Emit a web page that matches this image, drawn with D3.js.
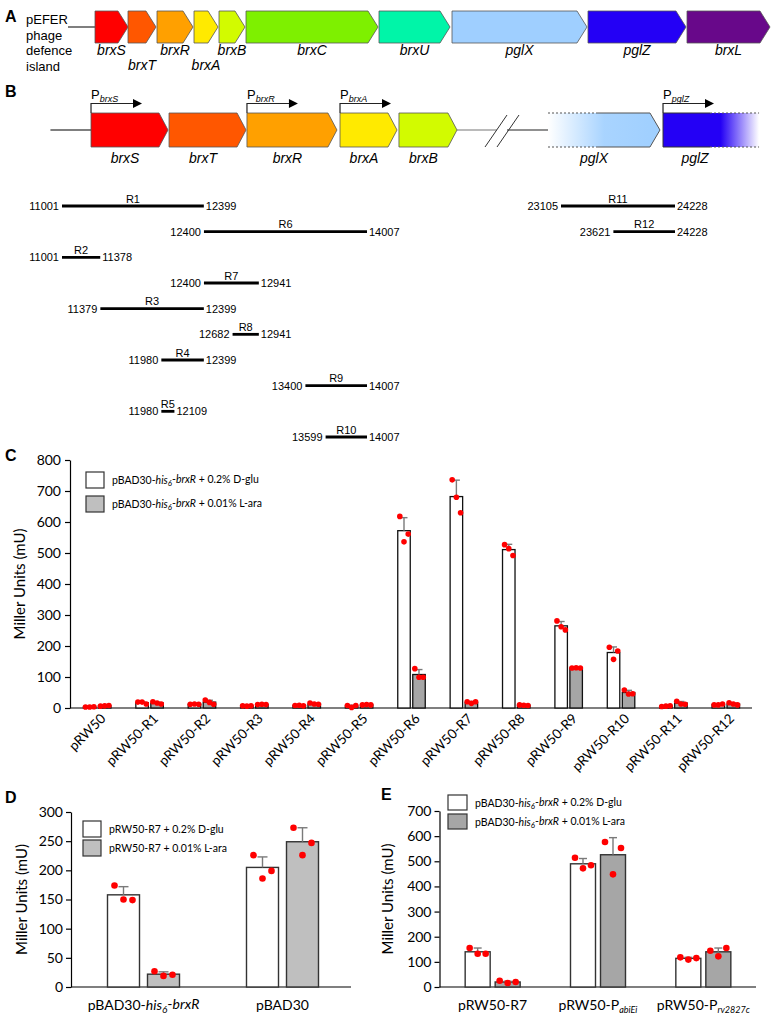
<!DOCTYPE html>
<html><head><meta charset="utf-8">
<script src="https://cdn.jsdelivr.net/npm/d3@7"></script>
<style>
body{margin:0;background:#fff;}
svg{display:block;}
</style></head><body>
<svg id="fig" width="772" height="1023"></svg>
<script>
// ---------------- DATA ----------------
// Panel A: gene order along the island (diagram units)
const aGenes = ["brxS","brxT","brxR","brxA","brxB","brxC","brxU","pglX","pglZ","brxL"];
const aGeneStart = [0,33,62,99,124,151,284,357,493,592];
const aGeneEnd   = [33,61,98,123,150,283,355,492,591,675];
const aLabelRow  = [1,2,1,2,1,1,1,1,1,1];

// Panel B: genes (bp) and promoters
const bGenes = ["brxS","brxT","brxR","brxA","brxB"];
const bGeneStart = [11287,12056,12824,13741,14322];
const bGeneEnd   = [12046,12815,13711,14303,14894];
const bGenes2 = ["pglX","pglZ"];
const bGene2Start = [22977,24110];
const bGene2End   = [24080,25056];
const promoterGenes = ["brxS","brxR","brxA","pglZ"];

// Panel B: cloned regions
const regions     = ["R1","R2","R3","R4","R5","R6","R7","R8","R9","R10","R11","R12"];
const regionStart = [11001,11001,11379,11980,11980,12400,12400,12682,13400,13599,23105,23621];
const regionEnd   = [12399,11378,12399,12399,12109,14007,12941,12941,14007,14007,24228,24228];
const regionRow   = [0,2,4,6,8,1,3,5,7,9,0,1];

// Panel C
const cCats = ["pRW50","pRW50-R1","pRW50-R2","pRW50-R3","pRW50-R4","pRW50-R5","pRW50-R6","pRW50-R7","pRW50-R8","pRW50-R9","pRW50-R10","pRW50-R11","pRW50-R12"];
const cGluMean = [3,17,12,7,8,6,572,682,511,265,179,6,11];
const cGluSD   = [1,3,1,1,1,3,42,53,17,14,18,1,2];
const cAraMean = [7,16,19,11,13,10,108,18,9,129,50,16,13];
const cAraSD   = [1,3,6,1,2,1,16,3,1,2,7,5,3];
const cGluPts = [[3,3,4],[19,19,13],[12,13,12],[7,6,7],[8,9,7],[8,2,8],[618,536,561],[736,680,630],[527,514,492],[281,262,252],[196,157,184],[5,6,7],[10,10,13]];
const cAraPts = [[6,7,8],[20,16,13],[26,18,12],[11,12,11],[16,13,12],[10,11,10],[127,99,99],[20,15,20],[10,9,8],[129,130,129],[58,45,46],[22,13,12],[17,13,10]];
const cTicks = [0,100,200,300,400,500,600,700,800];

// Panel D
const dCats = ["pBAD30-his6-brxR","pBAD30"];
const dGluMean = [158,205];
const dGluSD   = [14,18];
const dAraMean = [22,249];
const dAraSD   = [4,24];
const dGluPts = [[174,150,149],[226,186,199]];
const dAraPts = [[27,19,21],[273,226,247]];
const dTicks = [0,50,100,150,200,250,300];

// Panel E
const eCats = ["pRW50-R7","pRW50-PabiEi","pRW50-Prv2827c"];
const eGluMean = [140,490,114];
const eGluSD   = [15,21,4];
const eAraMean = [20,526,140];
const eAraSD   = [3,68,15];
const eGluPts = [[155,132,132],[514,472,484],[118,109,115]];
const eAraPts = [[25,16,20],[577,448,553],[144,122,155]];
const eTicks = [0,100,200,300,400,500,600,700];

// ---------------- STYLE ----------------
const geneColors = {brxS:"#ff0000",brxT:"#ff5700",brxR:"#ffa000",brxA:"#ffea00",brxB:"#d2fb00",
  brxC:"#7ef000",brxU:"#00f5a8",pglX:"#9fcfff",pglZ:"#2400f5",brxL:"#68088a"};
const ARIAL = "'Liberation Sans', Arial, sans-serif";
const CAL = "Lato, 'Open Sans', sans-serif";
const svg = d3.select("#fig");
const defs = svg.append("defs");

function arrowPath(x0,x1,y0,y1,head){
  const ym=(y0+y1)/2;
  return `M${x0},${y0}L${x1-head},${y0}L${x1},${ym}L${x1-head},${y1}L${x0},${y1}Z`;
}
// rich text: parts = [[text, style]] style: n | i | is (italic subscript)
function rich(sel, parts, subSize){
  parts.forEach(([t,s])=>{
    const ts = sel.append("tspan").text(t);
    if(s==="i"||s==="is") ts.attr("font-style","italic");
    if(s==="is"){ ts.attr("font-size",subSize).attr("dy","0.3em"); }
  });
  const nodes = sel.selectAll("tspan").nodes();
  for(let k=1;k<nodes.length;k++){
    const prevSub = parts[k-1][1]==="is", curSub = parts[k][1]==="is";
    if(prevSub && !curSub) d3.select(nodes[k]).attr("dy","-0.3em");
  }
  return sel;
}
const labelParts = {
  "pBAD30-his6-brxR":[["pBAD30-","n"],["his","i"],["6","is"],["-","n"],["brxR","i"]],
  "pBAD30":[["pBAD30","n"]],
  "pRW50-R7":[["pRW50-R7","n"]],
  "pRW50-PabiEi":[["pRW50-P","n"],["abiEi","is"]],
  "pRW50-Prv2827c":[["pRW50-P","n"],["rv2827c","is"]]
};

// ---------------- PANEL A ----------------
svg.append("text").attr("x",5).attr("y",22).attr("font-family",ARIAL).attr("font-weight","bold").attr("font-size",16).text("A");
["pEFER","phage","defence","island"].forEach((t,i)=>{
  svg.append("text").attr("x",26).attr("y",24+i*15.5).attr("font-family",ARIAL).attr("font-size",13).text(t);
});
const xA = d3.scaleLinear().domain([0,675]).range([95,770]);
svg.append("line").attr("x1",68).attr("x2",xA(0)).attr("y1",27).attr("y2",27).attr("stroke","#555").attr("stroke-width",1.5);
aGenes.forEach((g,i)=>{
  svg.append("path").attr("d",arrowPath(xA(aGeneStart[i]),xA(aGeneEnd[i]),11,43,10))
    .attr("fill",geneColors[g]).attr("stroke","#555").attr("stroke-width",0.8);
  svg.append("text").attr("x",(xA(aGeneStart[i])+xA(aGeneEnd[i]))/2).attr("y",aLabelRow[i]===1?55:70)
    .attr("text-anchor","middle").attr("font-family",ARIAL).attr("font-style","italic").attr("font-size",14).text(g);
});

// ---------------- PANEL B ----------------
svg.append("text").attr("x",5).attr("y",97).attr("font-family",ARIAL).attr("font-weight","bold").attr("font-size",16).text("B");
const s1 = d3.scaleLinear().domain([11001,14007]).range([62,367]);
const s2 = d3.scaleLinear().domain([23105,24228]).range([561,675]);
const gy0=113, gy1=147, gym=130;
// backbone lines
svg.append("line").attr("x1",s1(10887)).attr("x2",s1(bGeneStart[0])).attr("y1",gym).attr("y2",gym).attr("stroke","#555").attr("stroke-width",1.5);
svg.append("line").attr("x1",s1(bGeneEnd[4])).attr("x2",s1(15288)).attr("y1",gym).attr("y2",gym).attr("stroke","#777").attr("stroke-width",1.2);
svg.append("line").attr("x1",s2(22573)).attr("x2",s2(bGene2Start[0])).attr("y1",gym).attr("y2",gym).attr("stroke","#222").attr("stroke-width",1.2);
// break marks
[[485,507],[497,519]].forEach(([a,b])=>{
  svg.append("line").attr("x1",a).attr("y1",gy1).attr("x2",b).attr("y2",gy0+2).attr("stroke","#333").attr("stroke-width",1);
});
bGenes.forEach((g,i)=>{
  const x0=s1(bGeneStart[i]), x1=s1(bGeneEnd[i]);
  svg.append("path").attr("d",arrowPath(x0,x1,gy0,gy1,9)).attr("fill",geneColors[g]).attr("stroke","#555").attr("stroke-width",0.8);
  svg.append("text").attr("x",(x0+x1-9)/2).attr("y",163).attr("text-anchor","middle")
    .attr("font-family",ARIAL).attr("font-style","italic").attr("font-size",14).text(g);
});
// pglX gradient arrow
const gX = defs.append("linearGradient").attr("id","gX").attr("x1","0").attr("x2","1").attr("y1","0").attr("y2","0");
gX.append("stop").attr("offset","0").attr("stop-color",geneColors.pglX).attr("stop-opacity",0);
gX.append("stop").attr("offset","0.5").attr("stop-color",geneColors.pglX).attr("stop-opacity",0.9);
gX.append("stop").attr("offset","1").attr("stop-color",geneColors.pglX).attr("stop-opacity",1);
const gZ = defs.append("linearGradient").attr("id","gZ").attr("x1","0").attr("x2","1").attr("y1","0").attr("y2","0");
gZ.append("stop").attr("offset","0").attr("stop-color",geneColors.pglZ).attr("stop-opacity",1);
gZ.append("stop").attr("offset","0.6").attr("stop-color",geneColors.pglZ).attr("stop-opacity",1);
gZ.append("stop").attr("offset","1").attr("stop-color",geneColors.pglZ).attr("stop-opacity",0);
{
  const x0=s2(bGene2Start[0]), x1=s2(bGene2End[0]), h=10, mid=x0+50;
  svg.append("path").attr("d",arrowPath(x0,x1,gy0,gy1,h)).attr("fill","url(#gX)");
  [gy0,gy1].forEach(yy=>{
    svg.append("line").attr("x1",x0).attr("x2",mid).attr("y1",yy).attr("y2",yy).attr("stroke","#555").attr("stroke-width",1).attr("stroke-dasharray","2,2");
    svg.append("line").attr("x1",mid).attr("x2",x1-h).attr("y1",yy).attr("y2",yy).attr("stroke","#555").attr("stroke-width",1.2);
  });
  svg.append("path").attr("d",`M${x1-h},${gy0}L${x1},${gym}L${x1-h},${gy1}`).attr("fill","none").attr("stroke","#555").attr("stroke-width",1);
  svg.append("text").attr("x",x0+46).attr("y",163).attr("text-anchor","middle").attr("font-family",ARIAL).attr("font-style","italic").attr("font-size",14).text(bGenes2[0]);
}
{
  const x0=s2(bGene2Start[1]), x1=s2(bGene2End[1]), mid=x0+47;
  svg.append("rect").attr("x",x0).attr("y",gy0).attr("width",x1-x0).attr("height",gy1-gy0).attr("fill","url(#gZ)");
  svg.append("line").attr("x1",x0).attr("x2",x0).attr("y1",gy0).attr("y2",gy1).attr("stroke","#333").attr("stroke-width",1);
  [gy0,gy1].forEach(yy=>{
    svg.append("line").attr("x1",x0).attr("x2",mid).attr("y1",yy).attr("y2",yy).attr("stroke","#333").attr("stroke-width",1.2);
    svg.append("line").attr("x1",mid).attr("x2",x1).attr("y1",yy).attr("y2",yy).attr("stroke","#555").attr("stroke-width",1).attr("stroke-dasharray","2,2");
  });
  svg.append("text").attr("x",x0+32).attr("y",163).attr("text-anchor","middle").attr("font-family",ARIAL).attr("font-style","italic").attr("font-size",14).text(bGenes2[1]);
}
// promoters
promoterGenes.forEach(g=>{
  const i1 = bGenes.indexOf(g);
  const x0 = i1>=0 ? s1(bGeneStart[i1]) : s2(bGene2Start[bGenes2.indexOf(g)]);
  const py = 103.5;
  svg.append("path").attr("d",`M${x0},${gy0}L${x0},${py}L${x0+42},${py}`).attr("fill","none").attr("stroke","#222").attr("stroke-width",1.2);
  svg.append("path").attr("d",`M${x0+42},${py-4.5}L${x0+51},${py}L${x0+42},${py+4.5}Z`).attr("fill","#000");
  const t = svg.append("text").attr("x",x0).attr("y",99).attr("font-family",ARIAL).attr("font-size",13);
  t.append("tspan").text("P");
  t.append("tspan").attr("font-style","italic").attr("font-size",9).attr("dy",3).text(g);
});
// regions
const rowY = d3.scaleLinear().domain([0,9]).range([206,437]);
regions.forEach((r,i)=>{
  const sc = regionStart[i]>20000 ? s2 : s1;
  const x0=sc(regionStart[i]), x1=sc(regionEnd[i]), y=rowY(regionRow[i]);
  svg.append("line").attr("x1",x0).attr("x2",x1).attr("y1",y).attr("y2",y).attr("stroke","#000").attr("stroke-width",2.8);
  svg.append("text").attr("x",(x0+x1)/2).attr("y",y-3.5).attr("text-anchor","middle").attr("font-family",ARIAL).attr("font-size",11).text(r);
  svg.append("text").attr("x",x0-3).attr("y",y+4).attr("text-anchor","end").attr("font-family",ARIAL).attr("font-size",11).text(regionStart[i]);
  svg.append("text").attr("x",x1+2).attr("y",y+4).attr("font-family",ARIAL).attr("font-size",11).text(regionEnd[i]);
});

// ---------------- BAR CHART HELPER ----------------
function barChart(o){
  const g = svg.append("g");
  const x = d3.scaleBand().domain(o.cats).range(o.xr);
  const y = d3.scaleLinear().domain(o.ydom).range(o.yr);
  const ya = g.append("g").attr("transform",`translate(${o.axisX},0)`)
    .call(d3.axisLeft(y).tickValues(o.ticks).tickSize(5).tickSizeOuter(0).tickPadding(o.tickPad));
  ya.select(".domain").attr("stroke","#000").attr("stroke-width",1.2);
  ya.selectAll(".tick line").attr("stroke","#000").attr("stroke-width",1.2);
  ya.selectAll("text").attr("font-family",CAL).attr("font-size",o.tickFont).attr("fill","#000");
  g.append("line").attr("x1",o.axisX).attr("x2",o.axisEnd).attr("y1",y(0)).attr("y2",y(0)).attr("stroke","#000").attr("stroke-width",1.2);
  g.append("text").attr("transform",`translate(${o.titleX},${(o.yr[0]+o.yr[1])/2}) rotate(-90)`)
    .attr("text-anchor","middle").attr("font-family",CAL).attr("font-size",o.titleFont).text("Miller Units (mU)");
  const series = [
    {mean:o.gluMean, sd:o.gluSD, pts:o.gluPts, fill:"#fff", off:-1},
    {mean:o.araMean, sd:o.araSD, pts:o.araPts, fill:o.grey, off:1}
  ];
  series.forEach(s=>{
    o.cats.forEach((c,i)=>{
      const cx = x(c)+x.bandwidth()/2 + s.off*(o.gap/2+o.bw/2);
      g.append("rect").attr("x",cx-o.bw/2).attr("y",y(s.mean[i])).attr("width",o.bw).attr("height",y(0)-y(s.mean[i]))
        .attr("fill",s.fill).attr("stroke",o.barStroke).attr("stroke-width",o.barSW);
      const yt = y(s.mean[i]+s.sd[i]);
      g.append("line").attr("x1",cx).attr("x2",cx).attr("y1",y(s.mean[i])).attr("y2",yt).attr("stroke","#7a7a7a").attr("stroke-width",1.4);
      g.append("line").attr("x1",cx-o.cap/2).attr("x2",cx+o.cap/2).attr("y1",yt).attr("y2",yt).attr("stroke","#7a7a7a").attr("stroke-width",1.4);
      s.pts[i].forEach((v,k)=>{
        g.append("circle").attr("cx",cx+(k-1)*o.ptOff).attr("cy",y(v)).attr("r",o.r).attr("fill","#ff0000");
      });
    });
  });
  return {x,y,g};
}
function legend(x0,y0,dy,w,h,grey,parts1,parts2,fs){
  [[parts1,"#fff"],[parts2,grey]].forEach(([p,f],i)=>{
    svg.append("rect").attr("x",x0).attr("y",y0+i*dy).attr("width",w).attr("height",h).attr("fill",f).attr("stroke","#333").attr("stroke-width",1.2);
    rich(svg.append("text").attr("x",x0+w+8).attr("y",y0+i*dy+h/2+4).attr("font-family",CAL).attr("font-size",fs),p,fs*0.75);
  });
}

// ---------------- PANEL C ----------------
svg.append("text").attr("x",5).attr("y",461).attr("font-family",ARIAL).attr("font-weight","bold").attr("font-size",16).text("C");
const C = barChart({cats:cCats, xr:[71,752], ydom:[0,800], yr:[708,460], axisX:70, axisEnd:752, ticks:cTicks,
  tickPad:4, tickFont:14, titleX:25, titleFont:15, gluMean:cGluMean, gluSD:cGluSD, gluPts:cGluPts,
  araMean:cAraMean, araSD:cAraSD, araPts:cAraPts, grey:"#a6a6a6", bw:12.5, gap:2.5, cap:7, ptOff:4.2, r:2.8,
  barStroke:"#111", barSW:1.3});
cCats.forEach(c=>{
  const cx = C.x(c)+C.x.bandwidth()/2;
  svg.append("text").attr("transform",`translate(${cx+6},${716}) rotate(-45)`).attr("text-anchor","end")
    .attr("dy","0.35em").attr("font-family",CAL).attr("font-size",13.5).text(c);
});
const gluParts = [["pBAD30-","n"],["his","i"],["6","is"],["-","n"],["brxR","i"],[" + 0.2% D-glu","n"]];
const araParts = [["pBAD30-","n"],["his","i"],["6","is"],["-","n"],["brxR","i"],[" + 0.01% L-ara","n"]];
legend(86,472,24,18,16,"#bfbfbf",gluParts,araParts,10.5);

// ---------------- PANEL D ----------------
svg.append("text").attr("x",5).attr("y",803).attr("font-family",ARIAL).attr("font-weight","bold").attr("font-size",16).text("D");
const D = barChart({cats:dCats, xr:[74,352], ydom:[0,300], yr:[987,812], axisX:71, axisEnd:351, ticks:dTicks,
  tickPad:3, tickFont:14, titleX:27, titleFont:15, gluMean:dGluMean, gluSD:dGluSD, gluPts:dGluPts,
  araMean:dAraMean, araSD:dAraSD, araPts:dAraPts, grey:"#bfbfbf", bw:32, gap:8, cap:10, ptOff:9, r:3.3,
  barStroke:"#333", barSW:1.4});
dCats.forEach(c=>{
  rich(svg.append("text").attr("x",D.x(c)+D.x.bandwidth()/2).attr("y",1010).attr("text-anchor","middle")
    .attr("font-family",CAL).attr("font-size",14), labelParts[c], 10);
});
legend(83,821,19,18,16,"#bfbfbf",[["pRW50-R7 + 0.2% D-glu","n"]],[["pRW50-R7 + 0.01% L-ara","n"]],10.5);

// ---------------- PANEL E ----------------
svg.append("text").attr("x",381).attr("y",800).attr("font-family",ARIAL).attr("font-weight","bold").attr("font-size",16).text("E");
const E = barChart({cats:eCats, xr:[440,756], ydom:[0,700], yr:[987,811], axisX:439.5, axisEnd:756, ticks:eTicks,
  tickPad:3, tickFont:14, titleX:393, titleFont:15, gluMean:eGluMean, gluSD:eGluSD, gluPts:eGluPts,
  araMean:eAraMean, araSD:eAraSD, araPts:eAraPts, grey:"#a6a6a6", bw:25, gap:5, cap:8, ptOff:8, r:3.3,
  barStroke:"#333", barSW:1.4});
eCats.forEach(c=>{
  rich(svg.append("text").attr("x",E.x(c)+E.x.bandwidth()/2).attr("y",1010).attr("text-anchor","middle")
    .attr("font-family",CAL).attr("font-size",14), labelParts[c], 9);
});
legend(448,795,19,19,15,"#a6a6a6",gluParts,araParts,10.5);
</script>
</body></html>
